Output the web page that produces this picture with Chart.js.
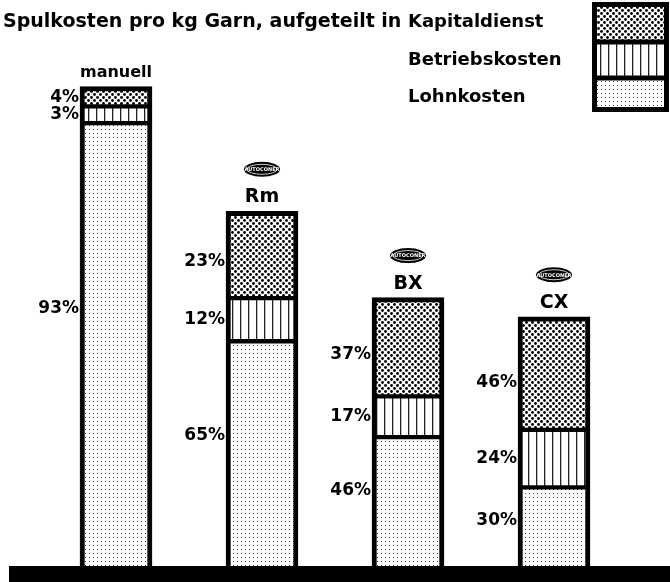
<!DOCTYPE html>
<html>
<head>
<meta charset="utf-8">
<script src="https://cdn.jsdelivr.net/npm/chart.js@4/dist/chart.umd.min.js"></script>
<style>
  html, body { margin: 0; padding: 0; background: #fff; }
  #wrap { width: 670px; height: 582px; }
</style>
</head>
<body>
<div id="wrap"><canvas id="chart" width="670" height="582"></canvas></div>
<script>
// bar heights (cost units, manuell = 100) and the printed shares
const categories = ['manuell', 'Rm', 'BX', 'CX']
const hasBrandMark = [false, true, true, true]
const lohnkosten = [92.5, 47, 27, 16.5]
const betriebskosten = [3.5, 9, 8.5, 12]
const kapitaldienst = [4, 18, 20.5, 23.5]
const lohnPct = [93, 65, 46, 30]
const betriebPct = [3, 12, 17, 24]
const kapitalPct = [4, 23, 37, 46]
const titleText = 'Spulkosten pro kg Garn, aufgeteilt in'
const brandText = 'AUTOCONER'

const FONT = '"DejaVu Sans", "Liberation Sans", sans-serif'
const canvas = document.getElementById('chart')
const ctx = canvas.getContext('2d')

function makePattern(w, h, draw){
    const c = document.createElement('canvas')
    c.width = w
    c.height = h
    const g = c.getContext('2d')
    g.fillStyle = '#fff'
    g.fillRect(0, 0, w, h)
    draw(g)
    return ctx.createPattern(c, 'repeat')
}

// coarse dots for Kapitaldienst
const denseDots = makePattern(6, 6, g => {
    g.fillStyle = '#000'
    ;[[1.5, 1.5], [4.5, 4.5]].forEach(p => {
        g.beginPath()
        g.arc(p[0], p[1], 1.4, 0, Math.PI * 2)
        g.fill()
    })
})
// vertical hatching for Betriebskosten
const vLines = makePattern(8, 2, g => {
    g.fillStyle = '#222'
    g.fillRect(0, 0, 1.3, 2)
})
// fine dot screen for Lohnkosten
const fineDots = makePattern(4, 4, g => {
    g.fillStyle = '#444'
    g.fillRect(1, 1, 1, 1)
})

// where a share label sits inside its segment (fraction from the top)
const labelAnchor = {Lohnkosten: 0.42, Betriebskosten: 0.5, Kapitaldienst: 0.58}

const decor = {
    id: 'decor',
    afterDatasetsDraw(chart){
        const c = chart.ctx
        const area = chart.chartArea
        c.save()

        // heavy base line
        c.fillStyle = '#000'
        c.fillRect(9, area.bottom, chart.width - 9, chart.height - area.bottom)

        // title and legend
        c.textBaseline = 'middle'
        c.textAlign = 'left'
        c.font = 'bold 19px ' + FONT
        c.fillText(titleText, 3, 22)

        c.font = 'bold 18px ' + FONT
        const sets = chart.data.datasets.slice().reverse()
        const legendY = [22, 60, 97]
        sets.forEach((ds, k) => c.fillText(ds.label, 408, legendY[k]))

        const bx = 592, bw = 77
        const cells = [[2, 42], [42, 78], [78, 112]]
        c.fillStyle = '#000'
        c.fillRect(bx, cells[0][0], bw, cells[2][1] - cells[0][0])
        sets.forEach((ds, k) => {
            const t = cells[k][0] + (k === 0 ? 5 : 2.5)
            const b = cells[k][1] - (k === 2 ? 5 : 2.5)
            c.fillStyle = ds.backgroundColor
            c.fillRect(bx + 5, t, bw - 10, b - t)
        })

        // bar names, brand marks and percentages
        const topMeta = chart.getDatasetMeta(chart.data.datasets.length - 1)
        categories.forEach((name, i) => {
            const bar = topMeta.data[i]
            const top = bar.y
            const left = bar.x - bar.width / 2

            c.fillStyle = '#000'
            c.textAlign = 'center'
            c.font = (i === 0 ? 'bold 16px ' : 'bold 19px ') + FONT
            c.fillText(name, bar.x, top - 14)

            if(hasBrandMark[i]){
                const cy = top - 42
                c.beginPath()
                c.ellipse(bar.x, cy, 18, 7.5, 0, 0, Math.PI * 2)
                c.fill()
                c.strokeStyle = '#fff'
                c.lineWidth = 0.8
                c.beginPath()
                c.ellipse(bar.x, cy, 15, 5, 0, 0, Math.PI * 2)
                c.stroke()
                c.fillStyle = '#fff'
                c.font = 'bold 5px ' + FONT
                c.fillText(brandText, bar.x, cy + 0.5)
            }

            c.fillStyle = '#000'
            c.textAlign = 'right'
            c.font = 'bold 17px ' + FONT
            chart.data.datasets.forEach((ds, d) => {
                const el = chart.getDatasetMeta(d).data[i]
                const cy = el.y + (el.base - el.y) * labelAnchor[ds.label]
                c.fillText(ds.pct[i] + '%', left - 1, cy)
            })
        })
        c.restore()
    }
}

const side = 5
new Chart(canvas, {
    type: 'bar',
    data: {
        labels: categories,
        datasets: [
            {
                label: 'Lohnkosten', data: lohnkosten, pct: lohnPct,
                backgroundColor: fineDots, borderColor: '#000', borderSkipped: false,
                borderWidth: {top: 3, bottom: 0, left: side, right: side}
            },
            {
                label: 'Betriebskosten', data: betriebskosten, pct: betriebPct,
                backgroundColor: vLines, borderColor: '#000', borderSkipped: false,
                borderWidth: {top: 3, bottom: 2, left: side, right: side}
            },
            {
                label: 'Kapitaldienst', data: kapitaldienst, pct: kapitalPct,
                backgroundColor: denseDots, borderColor: '#000', borderSkipped: false,
                borderWidth: {top: 5, bottom: 2, left: side, right: side}
            }
        ]
    },
    options: {
        responsive: false,
        animation: false,
        devicePixelRatio: 1,
        layout: {padding: {left: 43, right: 43, top: 10, bottom: 16}},
        datasets: {bar: {barThickness: 72}},
        scales: {
            x: {display: false, stacked: true},
            y: {display: false, stacked: true, min: 0, max: 116}
        },
        plugins: {
            legend: {display: false},
            tooltip: {enabled: false}
        }
    },
    plugins: [decor]
})
</script>
</body>
</html>
